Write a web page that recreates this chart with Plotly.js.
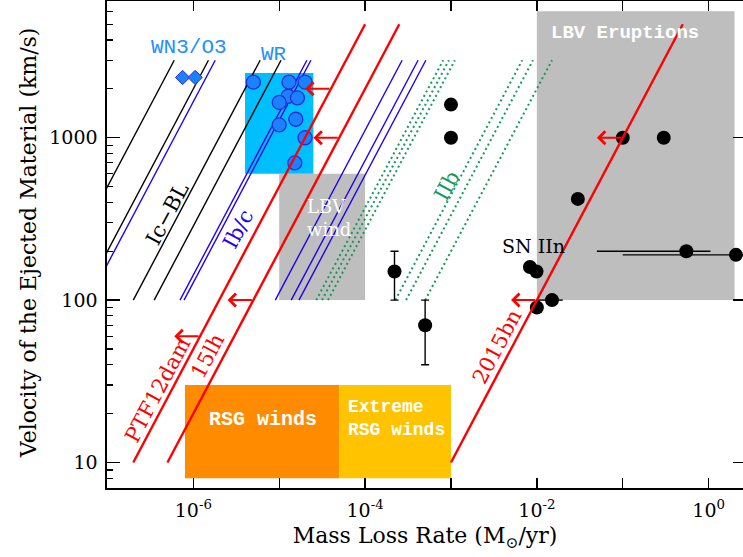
<!DOCTYPE html>
<html>
<head>
<meta charset="utf-8">
<script src="https://cdn.plot.ly/plotly-3.0.1.min.js"></script>
<style>
  html, body { margin: 0; padding: 0; background: #ffffff; }
  #chart { width: 743px; height: 557px; }
</style>
</head>
<body>
<div id="chart"></div>
<script>
// ---- Regions of parameter space: [Mdot min, Mdot max] and [v min, v max] ----
const boxNames  = ['LBV wind', 'LBV Eruptions', 'WR', 'RSG winds', 'Extreme RSG winds'];
const boxMdot   = [[1e-5, 1e-4], [1e-2, 2.0], [4e-6, 2.5e-5], [8e-7, 5e-5], [5e-5, 1e-3]];
const boxVel    = [[100, 600], [100, 6000], [600, 2500], [8, 30], [8, 30]];
const boxColors = ['#bebebe', '#bebebe', '#00bfff', '#ff8c00', '#ffc300'];

// ---- Constant Mdot/v tracks (endpoints in Mdot, velocity span in km/s) ----
const modelVel = [100, 3000];
const icblMdot = [[2e-8, 6e-7], [5e-8, 1.5e-6], [2e-7, 6e-6], [3.5e-7, 1.05e-5]];
const ibcMdot  = [[6e-8, 1.8e-6], [7e-7, 2.1e-5], [7.8e-7, 2.34e-5],
                  [9e-6, 2.7e-4], [1.38e-5, 4.14e-4], [1.7e-5, 5.1e-4]];
const iibMdot  = [[2.7e-5, 8.1e-4], [3.15e-5, 9.45e-4], [3.7e-5, 1.11e-3],
                  [2.25e-4, 6.75e-3], [3e-4, 9e-3], [5e-4, 1.5e-2]];

// ---- Superluminous SN limits ----
const slsnNames = ['PTF12dam', '15lh', '2015bn'];
const slsnMdot  = [[2e-7, 1e-4], [5e-7, 2.5e-4], [1e-3, 0.5]];
const slsnVel   = [10, 5000];
// upper-limit arrows: start on the track, end at the lower Mdot
const limitFrom = [1.2e-6, 4e-5, 5e-6, 5e-5, 0.01, 0.1];
const limitTo   = [6e-7, 2e-5, 2.5e-6, 2.5e-5, 0.005, 0.05];
const limitVel  = [60, 2000, 100, 1000, 100, 1000];

// ---- Wolf-Rayet winds ----
const wrMdot = [5e-6, 1.3e-5, 2e-5, 1.27e-5, 1.63e-5, 1e-5, 1.56e-5, 1e-5, 2e-5, 1.52e-5];
const wrVel  = [2200, 2200, 2200, 1800, 1760, 1650, 1300, 1200, 1000, 700];
const wnMdot = [7.5e-7, 1.05e-6];
const wnVel  = [2350, 2350];

// ---- Interacting SNe / LBV eruptions ----
const snMdot    = [1e-3, 1e-3, 0.1, 0.3, 0.03, 0.55, 2.08, 0.0083, 0.0099, 0.015, 0.01, 2.2e-4, 5e-4];
const snVel     = [1600, 1000, 1000, 1000, 420, 200, 190, 160, 150, 100, 90, 150, 70];
const snMdotErr = [0, 0, 0, 0, 0, 0.5, 1.98, 0, 0, 0.005, 0, 0, 0];
const snVelErr  = [0, 0, 0, 0, 0, 0, 0, 0, 0, 0, 0, 50, 30];

// axis ticks
const xTickVals = [1e-6, 1e-5, 1e-4, 1e-3, 1e-2, 1e-1, 1];
const xTickText = ['10<sup>-6</sup>', '', '10<sup>-4</sup>', '', '10<sup>-2</sup>', '', '10<sup>0</sup>'];
const yTickVals = [10, 100, 1000];
const yTickText = ['10', '100', '1000'];

const SERIF = 'DejaVu Serif, serif';
const MONO = 'Liberation Mono, monospace';
const BLUE = '#2200ee';
const GREEN = '#139a5c';

function segs(pairs, vel) {
  const x = [], y = [];
  pairs.forEach(p => { x.push(p[0], p[1], null); y.push(vel[0], vel[1], null); });
  return { x, y };
}

const traces = [];

// shaded regions
boxNames.forEach((name, i) => {
  const [x0, x1] = boxMdot[i];
  const [y0, y1] = boxVel[i];
  traces.push({
    type: 'scatter', mode: 'lines', name,
    x: [x0, x1, x1, x0, x0], y: [y0, y0, y1, y1, y0],
    fill: 'toself', fillcolor: boxColors[i],
    line: { width: 0, color: boxColors[i] },
    hoverinfo: 'skip', showlegend: false
  });
});

// model tracks
const icbl = segs(icblMdot, modelVel);
traces.push({ type: 'scatter', mode: 'lines', x: icbl.x, y: icbl.y,
  line: { color: '#000000', width: 1.4 }, hoverinfo: 'skip', showlegend: false });
const ibc = segs(ibcMdot, modelVel);
traces.push({ type: 'scatter', mode: 'lines', x: ibc.x, y: ibc.y,
  line: { color: BLUE, width: 1.4 }, hoverinfo: 'skip', showlegend: false });
const iib = segs(iibMdot, modelVel);
traces.push({ type: 'scatter', mode: 'lines', x: iib.x, y: iib.y,
  line: { color: GREEN, width: 2, dash: '2px,3px' }, hoverinfo: 'skip', showlegend: false });

// WR stars
traces.push({ type: 'scatter', mode: 'markers', x: wrMdot, y: wrVel,
  marker: { symbol: 'circle', size: 14, color: '#1a82ff', line: { color: '#2b2bd8', width: 1.3 } },
  hoverinfo: 'skip', showlegend: false });
traces.push({ type: 'scatter', mode: 'markers', x: wnMdot, y: wnVel,
  marker: { symbol: 'diamond', size: 11, color: '#1a82ff', line: { color: '#2b2bd8', width: 1 } },
  hoverinfo: 'skip', showlegend: false });

// interacting SNe
traces.push({ type: 'scatter', mode: 'markers', x: snMdot, y: snVel,
  marker: { symbol: 'circle', size: 14, color: '#000000' },
  error_x: { type: 'data', array: snMdotErr, arrayminus: snMdotErr, color: '#000000', thickness: 1.4, width: 0 },
  error_y: { type: 'data', array: snVelErr, arrayminus: snVelErr, color: '#000000', thickness: 1.4, width: 4 },
  hoverinfo: 'skip', showlegend: false });

// SLSN tracks
const slsn = segs(slsnMdot, slsnVel);
traces.push({ type: 'scatter', mode: 'lines', x: slsn.x, y: slsn.y,
  line: { color: '#ff0000', width: 2.4 }, hoverinfo: 'skip', showlegend: false });

// carries the right-hand axis
traces.push({ type: 'scatter', mode: 'markers', x: [], y: [], yaxis: 'y2', hoverinfo: 'skip', showlegend: false });

const L = Math.log10;
function label(text, mdot, vel, font, extra) {
  return Object.assign({ xref: 'x', yref: 'y', x: L(mdot), y: L(vel), text, showarrow: false, font }, extra || {});
}
const ROT = -62;

const annotations = [
  label('WN3/O3', 8.8e-7, 3580, { family: MONO, size: 21, color: '#1e90ff' }),
  label('WR', 8.6e-6, 3270, { family: MONO, size: 21, color: '#1e90ff' }),
  label('<b>LBV Eruptions</b>', 0.106, 4390, { family: MONO, size: 19, color: '#ffffff' }),
  label('LBV<br>wind', 1.98e-5, 320, { family: SERIF, size: 18, color: '#ffffff' }, { xanchor: 'left', align: 'left' }),
  label('<b>RSG winds</b>', 6.4e-6, 18.3, { family: MONO, size: 20, color: '#ffffff' }),
  label('<b>Extreme<br>RSG winds</b>', 6.07e-5, 18.7, { family: MONO, size: 18, color: '#ffffff' }, { xanchor: 'left', align: 'left' }),
  label('Ic\u2212BL', 5.0e-7, 339, { family: SERIF, size: 21, color: '#000000' }, { textangle: ROT }),
  label('Ib/c', 3.35e-6, 274, { family: SERIF, size: 21, color: BLUE }, { textangle: ROT }),
  label('IIb', 8.95e-4, 505, { family: SERIF, size: 21, color: GREEN }, { textangle: ROT }),
  label('SN IIn', 9.1e-3, 216, { family: SERIF, size: 19, color: '#000000' }),
  label(slsnNames[0], 3.85e-7, 28, { family: SERIF, size: 21, color: '#ff0000' }, { textangle: ROT }),
  label(slsnNames[1], 1.47e-6, 45.4, { family: SERIF, size: 21, color: '#ff0000' }, { textangle: ROT }),
  label(slsnNames[2], 3.43e-3, 51.5, { family: SERIF, size: 21, color: '#ff0000' }, { textangle: ROT }),
  // vertical axis title
  { xref: 'paper', yref: 'paper', x: -0.124, y: 0.503, xanchor: 'center', yanchor: 'middle',
    text: 'Velocity of the Ejected Material (km/s)', textangle: -90, showarrow: false,
    font: { family: SERIF, size: 22, color: '#000000' } }
];

limitFrom.forEach((m, i) => {
  annotations.push({
    xref: 'x', yref: 'y', axref: 'x', ayref: 'y',
    x: L(limitTo[i]), y: L(limitVel[i]), ax: L(m), ay: L(limitVel[i]),
    text: '', showarrow: true, arrowhead: 4, arrowsize: 1.25, arrowwidth: 2,
    arrowcolor: '#ff0000', standoff: 0, startstandoff: 0
  });
});

const tickFont = { family: SERIF, size: 19, color: '#000000' };
const titleFont = { family: SERIF, size: 22, color: '#000000' };
const xRange = [-7.005, 0.4];
const yRange = [0.843, 3.842];

const layout = {
  width: 743, height: 557,
  margin: { l: 107, r: 0, t: 1, b: 69 },
  paper_bgcolor: '#ffffff', plot_bgcolor: '#ffffff',
  showlegend: false,
  xaxis: {
    type: 'log', range: xRange, autorange: false,
    tickmode: 'array', tickvals: xTickVals, ticktext: xTickText,
    ticks: 'inside', ticklen: 10, tickwidth: 1.4, tickcolor: '#000000',
    showline: true, linecolor: '#000000', linewidth: 1.6, mirror: 'ticks',
    showgrid: false, zeroline: false,
    tickfont: tickFont, ticklabelstandoff: 5,
    title: { text: 'Mass Loss Rate (M<sub>\u2299</sub>/yr)', font: titleFont, standoff: 7 }
  },
  yaxis: {
    type: 'log', range: yRange, autorange: false,
    tickmode: 'array', tickvals: yTickVals, ticktext: yTickText,
    ticks: 'inside', ticklen: 13, tickwidth: 1.4, tickcolor: '#000000',
    minor: { dtick: 'D1', ticks: 'inside', ticklen: 6, tickwidth: 1.2, tickcolor: '#000000', showgrid: false },
    showline: true, linecolor: '#000000', linewidth: 1.6, mirror: false,
    showgrid: false, zeroline: false,
    tickfont: tickFont, ticklabelstandoff: 4
  },
  yaxis2: {
    type: 'log', range: yRange, autorange: false, overlaying: 'y', side: 'right',
    tickmode: 'array', tickvals: yTickVals, showticklabels: false,
    ticks: 'inside', ticklen: 10, tickwidth: 1.4, tickcolor: '#000000',
    showline: true, linecolor: '#000000', linewidth: 1.6,
    showgrid: false, zeroline: false
  },
  annotations
};

Plotly.newPlot('chart', traces, layout, { staticPlot: true, displayModeBar: false });
</script>
</body>
</html>
